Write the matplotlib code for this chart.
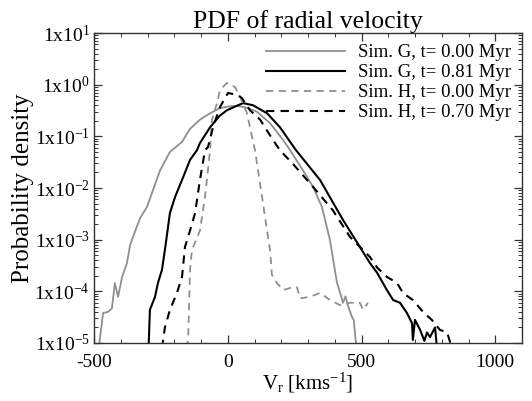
import numpy as np
import matplotlib
matplotlib.use('Agg')
import matplotlib.pyplot as plt
from matplotlib.ticker import MultipleLocator, LogLocator, NullFormatter

plt.rcParams['font.family'] = 'Liberation Serif'
plt.rcParams['mathtext.fontset'] = 'custom'
plt.rcParams['mathtext.rm'] = 'Liberation Serif'
plt.rcParams['mathtext.it'] = 'Liberation Serif:italic'

# Sim. G, t=0.00 Myr (grey solid)
g0_v = [-481, -478, -466, -448, -433, -422, -410, -395, -377, -365, -328, -302,
        -253, -216, -171, -141, -104, -66, -30, 5, 35, 70, 109, 158, 207, 233,
        281, 319, 352, 382, 408, 420, 431, 440, 449, 464, 471, 478, 484]
g0_p = [8e-6, 1.2e-5, 3.8e-5, 4.0e-5, 4.7e-5, 1.45e-4, 7.8e-5, 1.9e-4, 3.5e-4,
        7.9e-4, 2.6e-3, 4.3e-3, 0.022, 0.050, 0.078, 0.14, 0.21, 0.28, 0.35,
        0.38, 0.39, 0.36, 0.30, 0.18, 0.085, 0.054, 0.022, 0.0105, 0.0043,
        0.00099, 1.5e-4, 9.3e-5, 6.0e-5, 8.0e-5, 5.4e-5, 3.2e-5, 2.8e-5,
        1.14e-5, 8e-6]

# Sim. G, t=0.81 Myr (black solid)
g1_v = [-296, -291, -272, -261, -246, -235, -216, -197, -171, -141, -115, -104,
        -66, -30, -3, 57, 94, 147, 195, 255, 345, 431, 494, 532, 558, 580, 595,
        618, 644, 670, 689, 692, 700, 719, 735, 745, 756, 775, 782]
g1_p = [8e-6, 4.4e-5, 7.8e-5, 1.45e-4, 2.6e-4, 6.3e-4, 3.3e-3, 6.7e-3, 0.0143,
        0.035, 0.054, 0.074, 0.15, 0.25, 0.32, 0.44, 0.40, 0.28, 0.15, 0.054,
        0.0143, 0.0024, 7.2e-4, 3.5e-4, 2.3e-4, 1.45e-4, 1.06e-4, 6.8e-5,
        6.0e-5, 3.8e-5, 2.4e-5, 1.14e-5, 2.8e-5, 1.8e-5, 1.1e-5, 1.6e-5,
        1.3e-5, 2.0e-5, 8e-6]

# Sim. H, t=0.00 Myr (grey dashed)
h0_v = [-153, -148, -141, -134, -104, -85, -66, -59, -40, -29, -3, 27, 46, 72,
        91, 102, 147, 158, 165, 184, 207, 233, 259, 270, 307, 345, 382, 420,
        457, 494, 506, 524]
h0_p = [8e-6, 1.2e-5, 2.6e-4, 6.3e-4, 1.5e-3, 6.7e-3, 0.054, 0.21, 0.44, 0.79,
        1.08, 0.90, 0.58, 0.28, 0.097, 0.054, 1.5e-3, 6.3e-4, 2.1e-4, 1.45e-4,
        1.06e-4, 1.16e-4, 1.2e-4, 7.3e-5, 7.8e-5, 9.3e-5, 6.8e-5, 5.4e-5,
        6.0e-5, 6.0e-5, 4.4e-5, 6.0e-5]

# Sim. H, t=0.70 Myr (black dashed)
h1_v = [-246, -235, -216, -190, -171, -160, -141, -122, -104, -85, -74, -55,
        -29, 1, 38, 53, 83, 121, 169, 195, 247, 319, 393, 457, 532, 558, 595,
        633, 655, 692, 730, 763, 793, 820, 838]
h1_p = [8e-6, 2.0e-5, 4.4e-5, 9.3e-5, 1.9e-4, 7.2e-4, 1.5e-3, 3.3e-3, 0.0143,
        0.054, 0.062, 0.15, 0.37, 0.69, 0.63, 0.55, 0.32, 0.21, 0.085, 0.054,
        0.028, 0.0105, 0.0037, 1.13e-3, 4.6e-4, 2.9e-4, 1.9e-4, 1.45e-4,
        9.3e-5, 6.8e-5, 4.0e-5, 2.8e-5, 1.8e-5, 1.6e-5, 8e-6]

ytick_vals = [1e-5, 1e-4, 1e-3, 1e-2, 1e-1, 1e0, 1e1]
ytick_labels = ['1x10$^{-5}$', '1x10$^{-4}$', '1x10$^{-3}$', '1x10$^{-2}$',
                '1x10$^{-1}$', '1x10$^{0}$', '1x10$^{1}$']

grey = '#8c918c'

fig = plt.figure(figsize=(5.32, 4.01), dpi=100)
ax = fig.add_axes([94 / 532, 1 - 343 / 401, 428 / 532, 310 / 401])

ax.plot(g0_v, g0_p, color=grey, lw=1.3, label='Sim. G, t= 0.00 Myr')
ax.plot(g1_v, g1_p, color='black', lw=1.5, label='Sim. G, t= 0.81 Myr')
ax.plot(h0_v, h0_p, color=grey, lw=1.3, dashes=(4, 3), label='Sim. H, t= 0.00 Myr')
ax.plot(h1_v, h1_p, color='black', lw=1.5, dashes=(4, 3), label='Sim. H, t= 0.70 Myr')

ax.set_yscale('log')
ax.set_xlim(-500, 1100)
ax.set_ylim(1e-5, 1e1)
ax.set_xticks([-500, 0, 500, 1000])
ax.set_xticklabels(['-500', '0', '500', '1000'])
ax.xaxis.set_minor_locator(MultipleLocator(100))
ax.set_yticks(ytick_vals)
ax.set_yticklabels(ytick_labels)
ax.yaxis.set_minor_locator(LogLocator(base=10, subs=np.arange(2, 10)))
ax.yaxis.set_minor_formatter(NullFormatter())
ax.tick_params(which='both', direction='in', top=True, right=True,
               labelsize=14, color='#333333')
ax.tick_params(which='major', length=6, width=0.9)
ax.tick_params(which='minor', length=3, width=0.7)
ax.tick_params(axis='x', pad=8)
ax.tick_params(axis='y', pad=3)
for s in ax.spines.values():
    s.set_color('#333333')
    s.set_linewidth(1.0)

ax.set_title('PDF of radial velocity', fontsize=18.5, pad=2)
ax.set_xlabel('V$_{\\rm r}$ [kms$^{-1}$]', fontsize=15, labelpad=0)
ax.set_ylabel('Probability density', fontsize=18, labelpad=0)

ax.legend(loc='upper right', frameon=False, fontsize=13.5, handlelength=4.2,
          handletextpad=0.7, labelspacing=0.15, borderaxespad=0.2)

fig.savefig('out.png', dpi=100)
